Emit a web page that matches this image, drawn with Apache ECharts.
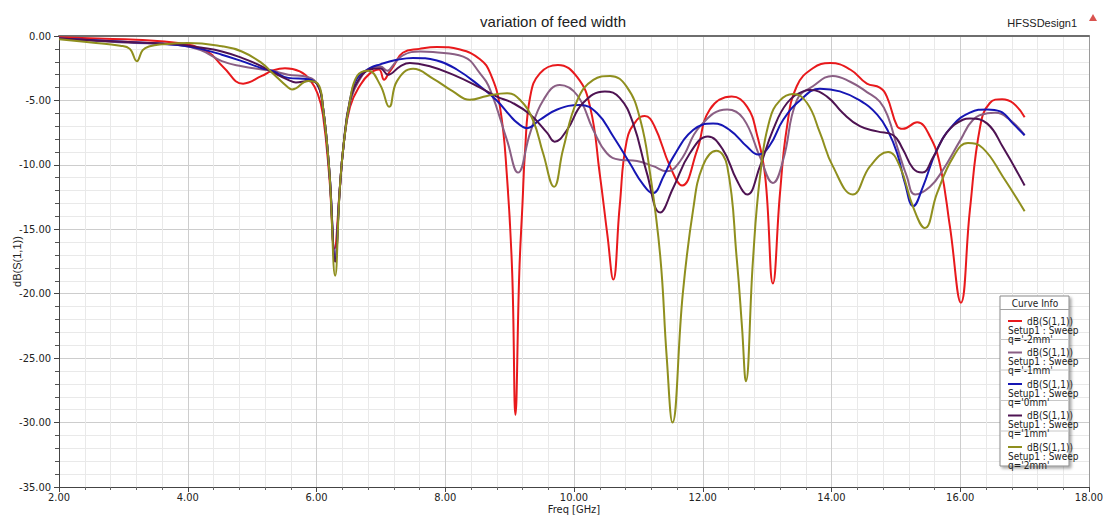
<!DOCTYPE html>
<html>
<head>
<meta charset="utf-8">
<script src="https://cdn.jsdelivr.net/npm/echarts@6/dist/echarts.min.js"></script>
<style>
html,body{margin:0;padding:0;background:#fff;}
#chart{width:1106px;height:517px;}
</style>
</head>
<body>
<div id="chart"></div>
<script>
// ---- data: [freq GHz, dB(S(1,1))] ----
const seriesNames = ["q='-2mm'", "q='-1mm'", "q='0mm'", "q='1mm'", "q='2mm'"];
const seriesColors = ['#e8191c', '#8a5f84', '#1616b4', '#4e1352', '#8f8f1e'];
const xTicks = [2, 18, 2];      // min, max, interval
const yTicks = [-35, 0, 5];

const qm2 = [[2.0,-0.1],[2.6,-0.2],[3.2,-0.3],[3.85,-0.55],[4.3,-1.2],[4.55,-2.4],[4.86,-3.7],[5.15,-3.1],[5.31,-2.7],[5.51,-2.5],[5.74,-2.75],[5.9,-3.4],[6.02,-4.5],[6.10,-6.1],[6.20,-11.0],[6.28,-16.5],[6.36,-12.0],[6.42,-8.5],[6.52,-5.5],[6.68,-3.8],[6.83,-2.9],[6.97,-2.6],[7.05,-3.4],[7.12,-2.9],[7.20,-2.3],[7.34,-1.3],[7.60,-1.0],[7.87,-0.85],[8.23,-1.05],[8.54,-1.8],[8.70,-2.9],[8.85,-5.5],[8.96,-11.0],[9.04,-18.4],[9.09,-29.4],[9.15,-18.4],[9.20,-13.0],[9.24,-8.9],[9.32,-4.7],[9.47,-2.9],[9.75,-2.25],[10.05,-3.2],[10.25,-5.5],[10.40,-10.7],[10.52,-15.5],[10.61,-18.9],[10.71,-13.2],[10.82,-8.1],[10.98,-6.5],[11.10,-6.2],[11.25,-7.0],[11.49,-10.1],[11.68,-11.6],[11.91,-8.9],[12.11,-5.7],[12.45,-4.7],[12.69,-5.5],[12.84,-7.6],[12.97,-10.9],[13.09,-19.2],[13.20,-12.2],[13.31,-7.0],[13.46,-3.9],[13.71,-2.5],[13.98,-2.1],[14.29,-2.6],[14.55,-3.7],[14.75,-4.0],[14.86,-4.7],[15.02,-7.0],[15.11,-7.2],[15.33,-6.7],[15.53,-7.8],[15.69,-10.1],[15.84,-14.8],[16.01,-20.7],[16.15,-13.5],[16.31,-7.0],[16.46,-5.2],[16.65,-4.9],[16.82,-5.2],[17.0,-6.3]];

const qm1 = [[2.0,-0.2],[3.0,-0.5],[3.85,-0.7],[4.2,-1.1],[4.53,-1.95],[4.84,-2.35],[5.15,-2.6],[5.31,-2.7],[5.56,-3.0],[5.87,-3.2],[6.02,-3.8],[6.10,-5.5],[6.20,-10.5],[6.29,-17.5],[6.36,-12.0],[6.42,-8.5],[6.52,-5.2],[6.68,-3.3],[6.83,-2.5],[6.99,-2.35],[7.10,-2.7],[7.20,-2.2],[7.34,-1.5],[7.61,-1.2],[7.81,-1.25],[8.28,-1.6],[8.54,-2.9],[8.70,-4.2],[8.96,-8.1],[9.13,-10.6],[9.32,-7.5],[9.52,-5.0],[9.78,-3.8],[10.05,-4.6],[10.30,-7.3],[10.51,-9.1],[10.71,-9.6],[10.98,-9.7],[11.23,-10.1],[11.44,-10.5],[11.65,-9.7],[11.96,-7.0],[12.38,-5.7],[12.63,-6.4],[12.89,-9.4],[13.09,-11.4],[13.25,-9.6],[13.46,-5.0],[13.71,-3.9],[14.02,-3.1],[14.29,-3.55],[14.55,-4.35],[14.75,-5.1],[14.88,-6.3],[15.02,-8.6],[15.17,-10.9],[15.30,-12.3],[15.53,-11.7],[15.73,-10.4],[16.00,-8.1],[16.20,-6.5],[16.42,-6.0],[16.54,-5.95],[16.77,-6.5],[17.0,-7.7]];

const q0 = [[2.0,-0.2],[3.0,-0.45],[3.85,-0.7],[4.2,-1.0],[4.53,-1.45],[4.84,-1.95],[5.15,-2.5],[5.31,-2.7],[5.56,-3.25],[5.87,-3.35],[6.02,-3.8],[6.10,-5.5],[6.20,-10.5],[6.29,-17.3],[6.36,-12.0],[6.42,-8.5],[6.52,-5.0],[6.63,-3.3],[6.83,-2.5],[6.99,-2.2],[7.25,-1.85],[7.50,-1.7],[7.87,-1.9],[8.18,-2.6],[8.54,-3.9],[8.80,-5.0],[9.01,-6.2],[9.11,-6.7],[9.27,-7.15],[9.47,-6.5],[9.74,-5.7],[10.09,-5.35],[10.36,-6.0],[10.61,-7.8],[10.87,-9.9],[11.07,-11.5],[11.22,-12.2],[11.40,-10.8],[11.54,-9.4],[11.85,-7.3],[12.16,-6.8],[12.42,-7.3],[12.69,-8.6],[12.86,-9.2],[13.04,-8.5],[13.25,-6.5],[13.51,-5.0],[13.82,-4.1],[14.13,-4.3],[14.44,-5.0],[14.71,-6.1],[14.88,-7.4],[15.02,-9.1],[15.14,-11.4],[15.27,-13.2],[15.42,-11.7],[15.64,-8.8],[15.89,-6.9],[16.15,-5.95],[16.42,-5.7],[16.62,-5.85],[16.82,-6.8],[17.0,-7.7]];

const qp1 = [[2.0,-0.2],[3.0,-0.45],[3.85,-0.65],[4.2,-0.9],[4.53,-1.2],[4.84,-1.7],[5.15,-2.35],[5.31,-2.8],[5.56,-3.4],[5.68,-3.6],[5.87,-3.5],[6.02,-3.8],[6.10,-5.5],[6.20,-10.5],[6.29,-17.5],[6.36,-12.0],[6.42,-8.5],[6.52,-5.0],[6.68,-3.2],[6.83,-2.6],[6.99,-2.5],[7.11,-3.0],[7.30,-2.35],[7.45,-2.1],[7.76,-2.35],[8.12,-3.0],[8.54,-4.0],[8.80,-4.7],[9.05,-5.2],[9.32,-6.1],[9.58,-7.5],[9.70,-8.2],[9.89,-7.3],[10.14,-5.2],[10.48,-4.3],[10.71,-4.8],[10.92,-6.8],[11.13,-10.6],[11.34,-13.7],[11.54,-11.8],[11.80,-9.1],[12.08,-7.8],[12.31,-8.8],[12.53,-11.2],[12.69,-12.3],[12.89,-10.1],[13.09,-7.3],[13.31,-5.2],[13.56,-4.3],[13.67,-4.2],[13.93,-4.7],[14.18,-6.0],[14.44,-7.0],[14.71,-7.4],[14.96,-7.7],[15.11,-8.8],[15.27,-10.3],[15.41,-10.6],[15.58,-9.4],[15.79,-7.5],[16.04,-6.5],[16.15,-6.4],[16.42,-6.8],[16.66,-8.6],[17.0,-11.6]];

const qp2 = [[2.0,-0.25],[2.5,-0.5],[2.95,-0.75],[3.1,-1.0],[3.21,-1.95],[3.3,-1.1],[3.41,-0.8],[3.6,-0.65],[4.0,-0.55],[4.53,-0.8],[4.84,-1.2],[5.15,-2.1],[5.31,-2.85],[5.56,-4.0],[5.62,-4.15],[5.87,-3.5],[6.02,-3.7],[6.10,-5.5],[6.20,-10.5],[6.29,-18.6],[6.36,-12.0],[6.42,-8.5],[6.52,-5.0],[6.63,-3.1],[6.80,-2.7],[6.99,-3.8],[7.13,-5.5],[7.25,-3.5],[7.50,-2.55],[7.81,-3.3],[8.12,-4.3],[8.38,-4.95],[8.65,-4.65],[8.96,-4.45],[9.16,-4.95],[9.36,-6.5],[9.52,-9.1],[9.69,-11.7],[9.83,-8.8],[10.05,-5.0],[10.30,-3.4],[10.56,-3.1],[10.82,-3.95],[11.03,-6.5],[11.18,-10.6],[11.34,-17.1],[11.44,-24.9],[11.53,-30.0],[11.69,-20.0],[11.85,-13.5],[12.00,-10.1],[12.21,-8.9],[12.38,-10.1],[12.53,-17.4],[12.61,-22.6],[12.67,-26.8],[12.78,-17.4],[12.89,-10.9],[13.04,-6.5],[13.20,-5.0],[13.40,-4.5],[13.62,-5.2],[13.82,-7.5],[14.02,-10.1],[14.33,-12.3],[14.60,-10.1],[14.88,-9.0],[15.06,-10.1],[15.27,-13.3],[15.45,-14.9],[15.64,-12.2],[15.89,-9.4],[16.12,-8.3],[16.35,-8.7],[16.66,-10.9],[17.0,-13.6]];

const seriesData = [qm2, qm1, q0, qp1, qp2];

const FONT = "'Liberation Sans Narrow','DejaVu Sans Condensed','Liberation Sans',sans-serif";
const SANS = "'Liberation Sans',Arial,sans-serif";

const rich = {
  t: {fontSize: 10, fontFamily: FONT, color: '#222', lineHeight: 9, padding: [0,0,0,5]},
  s: {fontSize: 10, fontFamily: FONT, color: '#222', lineHeight: 9}
};
seriesColors.forEach((c, i) => {
  rich['ln' + i] = {width: 14, height: 2, backgroundColor: c, lineHeight: 9};
});

const chart = echarts.init(document.getElementById('chart'), null, {renderer: 'svg'});
const option = {
  backgroundColor: '#fff',
  animation: false,
  title: [
    {text: 'variation of feed width', left: 'center', top: 9,
     textStyle: {fontSize: 15, fontWeight: 'normal', color: '#222', fontFamily: SANS}},
    {text: 'HFSSDesign1', right: 24, top: 12,
     textStyle: {fontSize: 11, fontWeight: 'normal', color: '#222', fontFamily: SANS}}
  ],
  grid: {left: 59, right: 17, top: 36, bottom: 30, show: false,
         containLabel: false, outerBoundsMode: 'none'},
  legend: {
    orient: 'vertical', left: 998, top: 311, itemGap: 3.5,
    itemWidth: 0, itemHeight: 0, icon: 'none', selectedMode: false,
    data: seriesNames,
    formatter: function (name) {
      const i = seriesNames.indexOf(name);
      return '{ln' + i + '|}{t|dB(S(1,1))}\n{s|Setup1 : Sweep}\n{s|' + name + '}';
    },
    textStyle: {rich: rich, fontSize: 10, lineHeight: 9, fontFamily: FONT}
  },
  graphic: [
    {type: 'rect', z: 1, shape: {x: 1000, y: 296, width: 69, height: 170},
     style: {fill: '#fff', stroke: '#8a8a8a', lineWidth: 1, shadowBlur: 3,
             shadowColor: 'rgba(0,0,0,0.35)', shadowOffsetX: 2, shadowOffsetY: 2}},
    {type: 'text', z: 2, x: 1035, y: 298,
     style: {text: 'Curve Info', fontSize: 10, fontFamily: FONT, fill: '#222', textAlign: 'center'}},
    {type: 'line', z: 2, shape: {x1: 1000, y1: 309.5, x2: 1069, y2: 309.5}, style: {stroke: '#a0a0a0', lineWidth: 1}},
    {type: 'line', z: 2, shape: {x1: 1000, y1: 339.5, x2: 1069, y2: 339.5}, style: {stroke: '#c8c8c8', lineWidth: 1}},
    {type: 'line', z: 2, shape: {x1: 1000, y1: 370, x2: 1069, y2: 370}, style: {stroke: '#c8c8c8', lineWidth: 1}},
    {type: 'line', z: 2, shape: {x1: 1000, y1: 400.5, x2: 1069, y2: 400.5}, style: {stroke: '#c8c8c8', lineWidth: 1}},
    {type: 'line', z: 2, shape: {x1: 1000, y1: 431, x2: 1069, y2: 431}, style: {stroke: '#c8c8c8', lineWidth: 1}},
    {type: 'polygon', z: 2, shape: {points: [[1089, 21], [1097, 21], [1093, 14]]}, style: {fill: '#d9534f'}}
  ],
  xAxis: [
    {type: 'value', min: xTicks[0], max: xTicks[1], interval: xTicks[2],
     name: 'Freq [GHz]', nameLocation: 'middle', nameGap: 17, nameMoveOverlap: false,
     nameTextStyle: {fontSize: 11, fontFamily: FONT, color: '#222'},
     axisLine: {show: true, onZero: false, lineStyle: {color: '#444', width: 1}},
     axisTick: {show: true, length: 5, lineStyle: {color: '#444'}},
     minorTick: {show: true, splitNumber: 5, length: 3, lineStyle: {color: '#666'}},
     axisLabel: {fontSize: 11, fontFamily: FONT, color: '#222', margin: 5,
                 formatter: v => v.toFixed(2)},
     splitLine: {show: true, lineStyle: {color: '#cdcdcd', width: 1}},
     minorSplitLine: {show: true, lineStyle: {color: '#e9e9e9', width: 1}}},
    {type: 'value', position: 'top', min: xTicks[0], max: xTicks[1],
     axisLine: {show: true, onZero: false, lineStyle: {color: '#6e6e6e', width: 2}},
     axisTick: {show: false}, axisLabel: {show: false}, splitLine: {show: false}}
  ],
  yAxis: [
    {type: 'value', min: yTicks[0], max: yTicks[1], interval: yTicks[2],
     name: 'dB(S(1,1))', nameLocation: 'middle', nameGap: 37, nameMoveOverlap: false,
     nameTextStyle: {fontSize: 11, fontFamily: SANS, color: '#222'},
     axisLine: {show: true, onZero: false, lineStyle: {color: '#444', width: 1}},
     axisTick: {show: true, length: 5, lineStyle: {color: '#444'}},
     minorTick: {show: true, splitNumber: 5, length: 4, lineStyle: {color: '#555'}},
     axisLabel: {fontSize: 11, fontFamily: FONT, color: '#222', margin: 8,
                 formatter: v => v.toFixed(2)},
     splitLine: {show: true, lineStyle: {color: '#cdcdcd', width: 1}},
     minorSplitLine: {show: true, lineStyle: {color: '#e9e9e9', width: 1}}},
    {type: 'value', position: 'right', min: yTicks[0], max: yTicks[1],
     axisLine: {show: true, onZero: false, lineStyle: {color: '#9a9a9a', width: 1}},
     axisTick: {show: false}, axisLabel: {show: false}, splitLine: {show: false}}
  ],
  series: seriesNames.map((n, i) => ({
    name: n, type: 'line', data: seriesData[i],
    xAxisIndex: 0, yAxisIndex: 0,
    showSymbol: false, smooth: 0.45,
    lineStyle: {width: 2, color: seriesColors[i]},
    itemStyle: {color: seriesColors[i]},
    clip: true, silent: true
  }))
};
chart.setOption(option);
</script>
</body>
</html>
